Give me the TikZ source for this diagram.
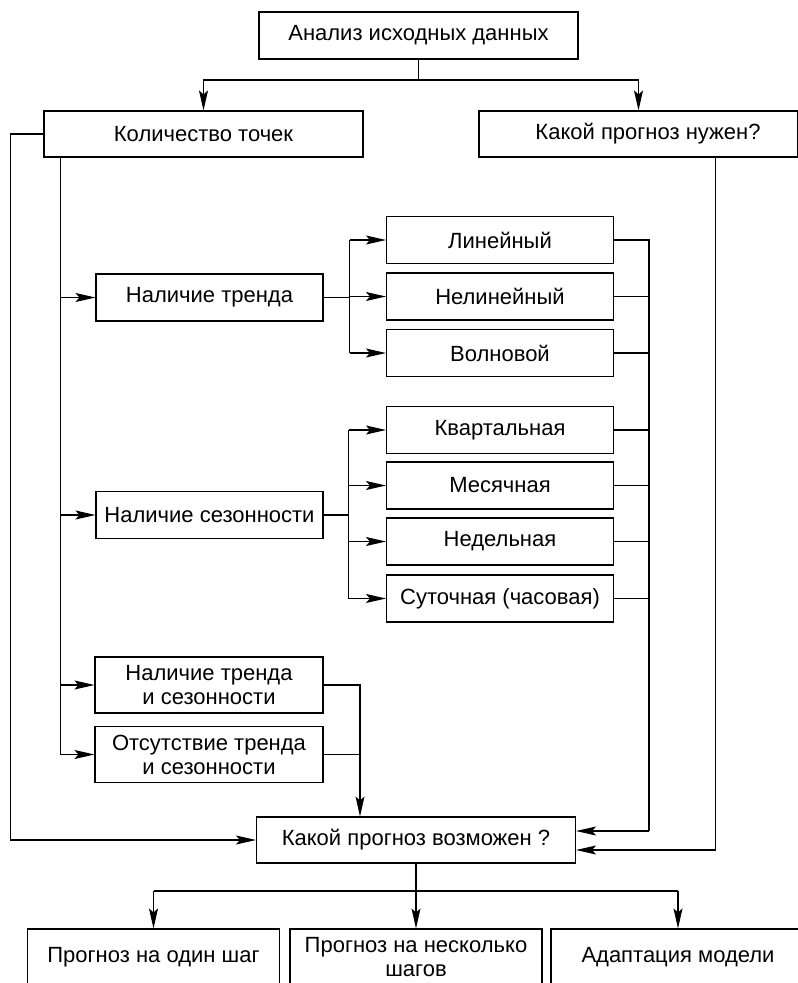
\documentclass[tikz,border=0pt]{standalone}
\usepackage{fontspec}
\setmainfont{Liberation Sans}
\usetikzlibrary{arrows.meta}
\begin{document}
\begin{tikzpicture}[x=1pt,y=-1pt,line width=1.1pt,
  box/.style={draw, inner sep=0pt, align=center,
    font=\fontsize{22}{24}\selectfont},
  wide/.style={box, minimum width=319pt, minimum height=46pt},
  mid/.style={box, minimum width=227pt, minimum height=47pt},
  tall/.style={box, minimum width=228pt, minimum height=56pt},
  foot/.style={box, minimum width=252pt, minimum height=56pt},
  arr/.style={-{Stealth[length=20pt,width=9pt,inset=4pt]}}]

\path[use as bounding box, clip] (0,0) rectangle (798,983);
\fill[white] (0,0) rectangle (798,983);

% upper level
\node[wide, minimum height=47pt] (top) at (418.5,35.5) {Анализ исходных данных};
\node[wide] (kol) at (203.5,134) {Количество точек};
\node[wide] (need) at (638.5,134) {\hspace*{19pt}Какой прогноз нужен?};

% components of the series
\node[mid] (trend) at (209.5,297.5) {Наличие тренда};
\node[mid] (seas)  at (209.5,515)   {Наличие сезонности};
\node[tall] (ts)   at (209,685)     {Наличие тренда\\и сезонности};
\node[tall] (nots) at (209,754.5)   {Отсутствие тренда\\и сезонности};

% kinds of trend
\node[mid] (lin)    at (500,240)   {Линейный};
\node[mid] (nonlin) at (500,296.5) {Нелинейный};
\node[mid] (wave)   at (500,353)   {Волновой};

% kinds of seasonality
\node[mid] (kv)  at (500,430)   {Квартальная};
\node[mid] (mes) at (500,485.5) {Месячная};
\node[mid] (ned) at (500,541.5) {Недельная};
\node[mid] (sut) at (500,598.5) {Суточная (часовая)};

% result
\node[wide] (poss) at (416,840) {Какой прогноз возможен ?};
\node[foot] (b1) at (153.5,957) {Прогноз на один шаг};
\node[foot] (b2) at (416,957)   {Прогноз на несколько\\шагов};
\node[foot, minimum width=254pt] (b3) at (678,957) {Адаптация модели};

% top split
\coordinate (j0) at (418.5,80);
\draw (top.south) -- (j0);
\draw[arr] (j0) -| (kol.north);
\draw[arr] (j0) -| (need.north);

% bypass on the left
\draw[arr] (kol.west) -- ++(-33,0) |- (poss.west);

% stem from the number of points
\coordinate (s0) at ([xshift=17pt]kol.south west);
\draw[arr] (s0) |- (nots.west);
\foreach \n in {trend,seas,ts}
  \draw[arr] (s0 |- \n.west) -- (\n.west);

% trend branches
\coordinate (tb) at ([xshift=26pt]trend.east);
\draw (trend.east) -- (tb);
\draw (tb |- lin.west) -- (tb |- wave.west);
\foreach \n in {lin,nonlin,wave}
  \draw[arr] (tb |- \n.west) -- (\n.west);

% seasonality branches
\coordinate (sb) at ([xshift=25pt]seas.east);
\draw (seas.east) -- (sb);
\draw (sb |- kv.west) -- (sb |- sut.west);
\foreach \n in {kv,mes,ned,sut}
  \draw[arr] (sb |- \n.west) -- (\n.west);

% collector on the right
\coordinate (rb) at (649,831);
\draw (lin.east) -| (rb);
\foreach \n in {nonlin,wave,kv,mes,ned,sut}
  \draw (\n.east) -- (\n.east -| rb);
\draw[arr] (rb) -- ([yshift=9pt]poss.east);
\draw[arr] ([xshift=77pt]need.south) |- ([yshift=-10pt]poss.east);

% combined cases
\coordinate (pin) at ([xshift=-56pt]poss.north);
\draw (ts.east) -| (pin |- nots.east);
\draw[arr] (nots.east) -| (pin);

% outcomes
\coordinate (bb) at (416,891);
\draw[arr] (poss.south) -- (b2.north);
\draw (b1.north |- bb) -- (b3.north |- bb);
\draw[arr] (b1.north |- bb) -- (b1.north);
\draw[arr] (b3.north |- bb) -- (b3.north);
\end{tikzpicture}
\end{document}
